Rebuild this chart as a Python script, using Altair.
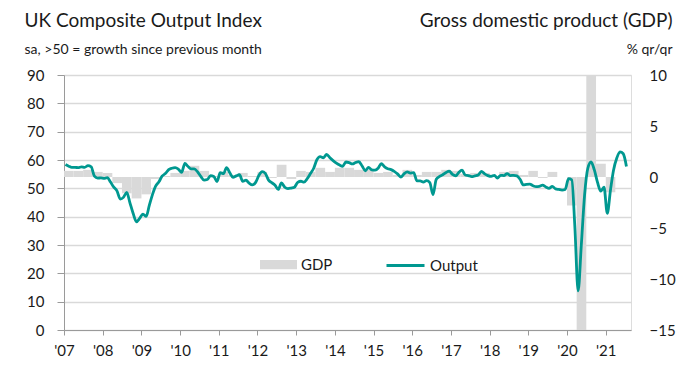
import altair as alt
import pandas as pd

# UK Composite Output Index (monthly, Jan 2007 - Jul 2021)
output_values = [
    58.4, 57.8, 57.4, 57.4, 57.3, 57.6, 57.4, 58.0, 57.6, 54.3, 53.6, 53.7,  # 2007
    53.5, 53.8, 52.2, 50.4, 49.1, 46.2, 46.8, 48.6, 44.8, 41.1, 38.2, 39.4,  # 2008
    40.9, 40.1, 43.8, 47.8, 50.8, 52.3, 54.3, 55.2, 56.6, 57.1, 57.3, 56.8,  # 2009
    55.6, 58.8, 57.8, 56.9, 56.9, 55.8, 54.2, 52.9, 53.1, 54.5, 54.2, 52.4,  # 2010
    55.5, 55.2, 57.3, 55.5, 53.9, 54.4, 54.8, 52.5, 52.9, 51.8, 51.2, 52.1,  # 2011
    54.6, 55.9, 55.3, 52.9, 52.0, 51.1, 49.6, 51.9, 50.4, 49.9, 50.1, 50.4,  # 2012
    52.1, 52.5, 52.2, 53.4, 55.2, 57.1, 60.1, 61.2, 60.8, 62.0, 60.8, 59.8,  # 2013
    58.9, 58.2, 57.8, 59.3, 59.1, 58.6, 59.1, 59.4, 57.9, 56.2, 57.4, 56.5,  # 2014
    56.4, 57.2, 58.7, 57.6, 56.9, 56.6, 56.0, 55.1, 54.0, 55.1, 55.8, 55.4,  # 2015
    55.5, 52.6, 52.6, 52.2, 52.7, 52.0, 47.8, 53.2, 54.2, 54.8, 55.6, 56.1,  # 2016
    54.9, 54.4, 55.6, 56.4, 54.7, 54.5, 54.1, 54.4, 54.7, 56.0, 55.1, 54.5,  # 2017
    54.2, 54.6, 53.6, 54.6, 54.5, 55.2, 54.5, 54.6, 54.4, 53.2, 51.2, 51.4,  # 2018
    51.5, 50.9, 50.6, 50.7, 51.1, 50.5, 50.0, 50.7, 49.8, 49.6, 49.4, 49.6,  # 2019
    53.4, 53.0, 36.5, 13.8, 30.0, 47.7, 57.0, 59.3, 56.5, 52.1, 49.0, 50.4,  # 2020
    41.2, 49.6, 56.4, 60.7, 62.9, 62.2, 57.7,                                # 2021
]

# GDP % q/q (quarterly, 2007 Q1 - 2021 Q1)
gdp_values = [
    0.6, 0.6, 0.7, 0.5,      # 2007
    0.4, -0.6, -1.6, -2.1,   # 2008
    -1.7, -0.2, 0.1, 0.4,    # 2009
    0.6, 1.1, 0.6, 0.1,      # 2010
    0.5, 0.2, 0.4, 0.1,      # 2011
    0.5, -0.1, 1.2, -0.2,    # 2012
    0.6, 0.5, 0.9, 0.5,      # 2013
    0.9, 0.9, 0.7, 0.7,      # 2014
    0.4, 0.5, 0.2, 0.7,      # 2015
    0.2, 0.5, 0.5, 0.7,      # 2016
    0.6, 0.3, 0.4, 0.4,      # 2017
    0.1, 0.5, 0.6, 0.2,      # 2018
    0.6, -0.1, 0.5, 0.0,     # 2019
    -2.8, -19.5, 16.9, 1.3,  # 2020
    -1.5,                    # 2021
]

years = list(range(2007, 2022))
left_ticks = list(range(0, 100, 10))
right_ticks = [-15, -10, -5, 0, 5, 10]

# ---- tables ----
out_dates = []
for i in range(len(output_values)):
    y = 2007 + i // 12
    m = 1 + i % 12
    out_dates.append(f"{y:04d}-{m:02d}-15")
out_df = pd.DataFrame({"date": out_dates, "value": output_values, "series": "Output"})

q_start, q_end = [], []
for i in range(len(gdp_values)):
    y = 2007 + i // 4
    m = 1 + 3 * (i % 4)
    q_start.append(f"{y:04d}-{m:02d}-01")
    if i % 4 == 3:
        q_end.append(f"{y + 1:04d}-01-01")
    else:
        q_end.append(f"{y:04d}-{m + 3:02d}-01")
gdp_df = pd.DataFrame({"start": q_start, "end": q_end, "gdp": gdp_values, "series": "GDP"})

FONT = "Lato"
TEXT = "#1a1a1a"
GRID = "#d9d9d9"
AXIS_GRAY = "#9a9a9a"
TEAL = "#009890"

x_scale = alt.Scale(
    type="utc",
    domain=[alt.DateTime(year=2007, month=1, date=1, utc=True),
            alt.DateTime(year=2021, month=8, date=27, utc=True)],
)
x_values = [alt.DateTime(year=y, month=1, date=1, utc=True) for y in years]

bars = alt.Chart(gdp_df).mark_rect(color=GRID).encode(
    x=alt.X("start:T", scale=x_scale,
            axis=alt.Axis(orient="top", labels=False, ticks=False, domain=False, grid=False,
                          title="% qr/qr", titleAngle=0, titleAlign="right", titleBaseline="alphabetic",
                          titleX=608, titleY=-22, titleFontSize=14, titleFontWeight="normal",
                          titleColor=TEXT, titleFont=FONT)),
    x2="end:T",
    y=alt.Y("gdp:Q", scale=alt.Scale(domain=[-15, 10], clamp=True, nice=False, zero=False),
            axis=alt.Axis(orient="right", values=right_ticks, grid=False, ticks=False, tickSize=0,
                          domain=False, labelPadding=18, labelFontSize=15, labelColor=TEXT,
                          labelFont=FONT, labelAlign="left",
                          title="Gross domestic product (GDP)", titleAngle=0, titleAlign="right",
                          titleBaseline="alphabetic", titleX=41, titleY=-49, titleFontSize=19,
                          titleFontWeight="normal", titleColor=TEXT, titleFont=FONT)),
    y2=alt.datum(0),
    color=alt.Color("series:N", scale=alt.Scale(domain=["GDP"], range=[GRID]),
                    legend=alt.Legend(orient="none", legendX=196, legendY=171, title=None,
                                      symbolType="M-1,-0.25L1,-0.25L1,0.25L-1,0.25Z",
                                      symbolSize=1369, symbolStrokeWidth=0, labelOffset=4,
                                      labelFontSize=15, labelColor=TEXT, labelFont=FONT,
                                      padding=0)),
)

line = alt.Chart(out_df).mark_line(strokeWidth=2.8, interpolate="monotone").encode(
    x=alt.X("date:T", scale=x_scale,
            axis=alt.Axis(orient="bottom", values=x_values, format="'%y", labelFlush=False,
                          labelOverlap=False, grid=False, tickSize=5, tickColor=AXIS_GRAY,
                          domainColor=AXIS_GRAY, labelFontSize=15, labelColor=TEXT, labelFont=FONT,
                          labelPadding=8,
                          title="sa, >50 = growth since previous month", titleAngle=0,
                          titleAlign="left", titleBaseline="alphabetic", titleX=-40, titleY=-277,
                          titleFontSize=14, titleFontWeight="normal", titleColor=TEXT,
                          titleFont=FONT)),
    y=alt.Y("value:Q", scale=alt.Scale(domain=[0, 90], nice=False),
            axis=alt.Axis(orient="left", values=left_ticks, grid=True, gridColor=GRID, gridWidth=1.5,
                          tickSize=7, tickColor=AXIS_GRAY, domainColor=AXIS_GRAY, labelPadding=13,
                          labelFontSize=15, labelColor=TEXT, labelFont=FONT,
                          title="UK Composite Output Index", titleAngle=0, titleAlign="left",
                          titleBaseline="alphabetic", titleX=-40, titleY=-49, titleFontSize=19,
                          titleFontWeight="normal", titleColor=TEXT, titleFont=FONT)),
    color=alt.Color("series:N", scale=alt.Scale(domain=["Output"], range=[TEAL]),
                    legend=alt.Legend(orient="none", legendX=321, legendY=170, title=None,
                                      symbolType="stroke", symbolSize=1444, symbolStrokeWidth=2.8,
                                      labelOffset=4, labelFontSize=15, labelColor=TEXT,
                                      labelFont=FONT, padding=0)),
)

chart = (
    alt.layer(bars, line)
    .resolve_scale(y="independent", color="independent")
    .resolve_axis(x="independent")
    .resolve_legend(color="independent")
    .properties(width=567, height=255,
                padding={"left": 64, "top": 75, "right": 53, "bottom": 46},
                autosize=alt.AutoSizeParams(type="none"))
    .configure_view(stroke=None)
    .configure(font=FONT)
)

chart.save("out.html", embed_options={"renderer": "svg", "actions": False})
